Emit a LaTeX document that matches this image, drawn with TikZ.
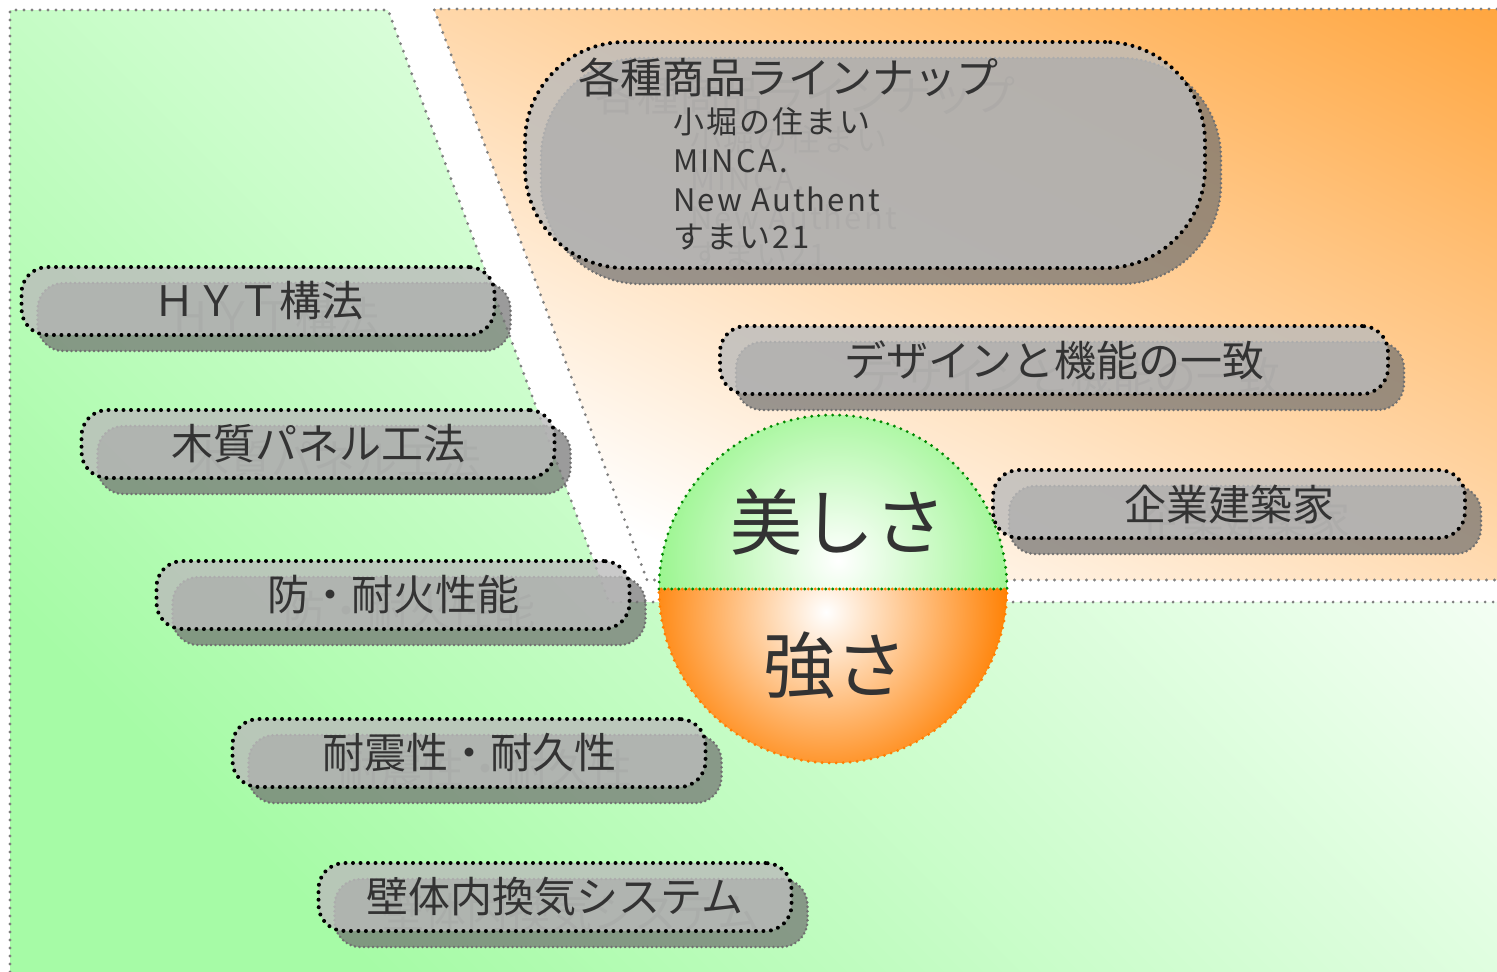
\documentclass[tikz,border=0pt]{standalone}
\usepackage{fontspec}
\setmainfont{Noto Sans CJK JP}
\definecolor{pillgray}{HTML}{BBBBBB}
\definecolor{shadowgray}{HTML}{707070}
\definecolor{inkgray}{HTML}{333333}
\definecolor{regiongray}{HTML}{808080}
\definecolor{greenlow}{HTML}{A6FBA6}
\definecolor{orangetop}{HTML}{FFA640}
\definecolor{ballgreen}{HTML}{96F58A}
\definecolor{balldark}{HTML}{008800}
\definecolor{ballorange}{HTML}{FF7F00}

\begin{document}
\begin{tikzpicture}[x=1pt, y=1pt,
    region/.style={draw=regiongray, line width=3.2pt, dash pattern=on 0pt off 8pt, line cap=round},
    pill/.style={rectangle, rounded corners=26pt, draw=black, line width=4pt, dash pattern=on 0pt off 7.5pt, line cap=round, fill=pillgray, fill opacity=0.8, text opacity=1, text=inkgray, minimum width=473pt, minimum height=68pt, inner sep=0pt, font=\fontsize{42}{50}\selectfont},
    pillshadow/.style={pill, draw=shadowgray, line width=2.8pt, dash pattern=on 0pt off 4.5pt, fill=shadowgray, fill opacity=0.7, text=black, text opacity=0.22, xshift=16pt, yshift=-16pt},
    bigpill/.style={minimum width=680pt, minimum height=226pt, rounded corners=100pt},
    headline/.style={anchor=west, inner sep=0pt, text=inkgray, font=\fontsize{42}{50}\selectfont},
    lineitem/.style={anchor=west, inner sep=0pt, text=inkgray, font=\fontsize{31}{36}\selectfont\addfontfeature{LetterSpace=7}},
    ghost/.style={text=black, text opacity=0.22, xshift=17pt, yshift=-18pt},
    ballline/.style={line width=3.2pt, dash pattern=on 0pt off 7pt, line cap=round},
    balltext/.style={text=inkgray, inner sep=0pt, font=\fontsize{72}{80}\selectfont}]

\path[use as bounding box] (0,0) rectangle (1497,-972);

% Regions
\shade[top color=white, bottom color=greenlow, shading angle=-45]
  (10,-10) -- (388,-10) -- (609,-602) -- (1497,-602) -- (1497,-972) -- (10,-972) -- cycle;
\begin{scope}
  \clip (434,-9) -- (1497,-9) -- (1497,-580) -- (647,-580) -- cycle;
  \begin{scope}[transform canvas={shift={(1497,-9)}, rotate=153.6}]
    \shade[bottom color=orangetop, top color=white] (-1700,0) rectangle (1700,853);
  \end{scope}
\end{scope}
\draw[region] (10,-972) -- (10,-10) -- (388,-10) -- (609,-602) -- (1497,-602);
\draw[region] (1497,-9) -- (434,-9) -- (647,-580) -- (1497,-580);

% Ball
\begin{scope}
  \clip (659,-589) arc[start angle=180, end angle=0, radius=174] -- cycle;
  \shade[inner color=white, outer color=ballgreen] (838,-560) circle (190);
\end{scope}
\begin{scope}
  \clip (659,-589) arc[start angle=180, end angle=360, radius=174] -- cycle;
  \shade[inner color=white, outer color=ballorange] (826,-612) circle (185);
\end{scope}
\draw[ballline, draw=balldark] (659,-589) arc[start angle=180, end angle=0, radius=174] -- cycle;
\draw[ballline, draw=ballorange, dash phase=3.5pt] (659,-589) arc[start angle=180, end angle=360, radius=174] -- cycle;
\node[balltext] (beauty) at (838,-522) {美しさ};
\node[balltext] (strength) at (835,-665) {強さ};

% Product lineup
\node[pillshadow, bigpill] (lineup-sh) at (865,-155) {};
\node[headline, ghost] (lineup-gh) at (578,-77) {各種商品ラインナップ};
\node[lineitem, ghost] (kobori-gh) at (673,-122) {小堀の住まい};
\node[lineitem, ghost] (minca-gh) at (673,-161) {MINCA.};
\node[lineitem, ghost] (authent-gh) at (673,-199) {New Authent};
\node[lineitem, ghost] (sumai-gh) at (673,-237) {すまい21};
\node[pill, bigpill] (lineup) at (865,-155) {};
\node[headline] (lineup-head) at (578,-77) {各種商品ラインナップ};
\node[lineitem] (kobori) at (673,-122) {小堀の住まい};
\node[lineitem] (minca) at (673,-161) {MINCA.};
\node[lineitem] (authent) at (673,-199) {New Authent};
\node[lineitem] (sumai) at (673,-237) {すまい21};

% Beauty side
\node[pillshadow, minimum width=668pt] (design-sh) at (1054,-360) {デザインと機能の一致};
\node[pill, minimum width=668pt] (design) at (1054,-360) {デザインと機能の一致};
\node[pillshadow, minimum width=472pt] (architect-sh) at (1229,-504) {企業建築家};
\node[pill, minimum width=472pt] (architect) at (1229,-504) {企業建築家};

% Strength side
\node[pillshadow] (hyt-sh) at (258,-301) {ＨＹＴ構法};
\node[pill] (hyt) at (258,-301) {ＨＹＴ構法};
\node[pillshadow] (panel-sh) at (318,-444) {木質パネル工法};
\node[pill] (panel) at (318,-444) {木質パネル工法};
\node[pillshadow] (fire-sh) at (393,-595) {防・耐火性能};
\node[pill] (fire) at (393,-595) {防・耐火性能};
\node[pillshadow] (quake-sh) at (469,-753) {耐震性・耐久性};
\node[pill] (quake) at (469,-753) {耐震性・耐久性};
\node[pillshadow] (vent-sh) at (555,-897) {壁体内換気システム};
\node[pill] (vent) at (555,-897) {壁体内換気システム};

\end{tikzpicture}
\end{document}
